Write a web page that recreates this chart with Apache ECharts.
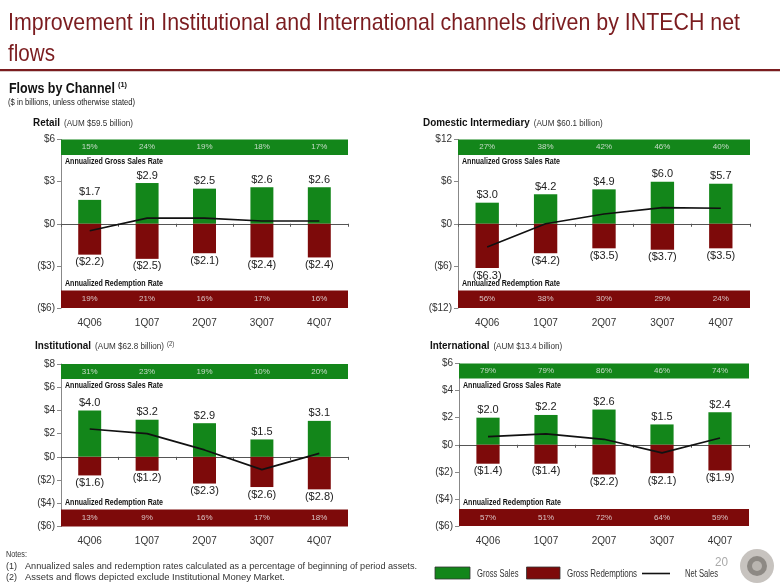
<!DOCTYPE html>
<html><head><meta charset="utf-8">
<script src="https://cdn.jsdelivr.net/npm/echarts@6/dist/echarts.min.js"></script>
<style>html,body{margin:0;padding:0;background:#fff}#c{width:780px;height:587px}</style>
</head><body><div id="c"></div>
<script>
const categories = ['4Q06','1Q07','2Q07','3Q07','4Q07'];

const retailGross = [1.7, 2.9, 2.5, 2.6, 2.6];
const retailRedemptions = [-2.2, -2.5, -2.1, -2.4, -2.4];
const retailNet = [-0.5, 0.4, 0.4, 0.2, 0.2];
const retailGrossRate = ['15%','24%','19%','18%','17%'];
const retailRedemptionRate = ['19%','21%','16%','17%','16%'];
const retailYTicks = [-6, -3, 0, 3, 6];

const domesticGross = [3.0, 4.2, 4.9, 6.0, 5.7];
const domesticRedemptions = [-6.3, -4.2, -3.5, -3.7, -3.5];
const domesticNet = [-3.3, 0.0, 1.4, 2.3, 2.2];
const domesticGrossRate = ['27%','38%','42%','46%','40%'];
const domesticRedemptionRate = ['56%','38%','30%','29%','24%'];
const domesticYTicks = [-12, -6, 0, 6, 12];

const institutionalGross = [4.0, 3.2, 2.9, 1.5, 3.1];
const institutionalRedemptions = [-1.6, -1.2, -2.3, -2.6, -2.8];
const institutionalNet = [2.4, 2.0, 0.6, -1.1, 0.3];
const institutionalGrossRate = ['31%','23%','19%','10%','20%'];
const institutionalRedemptionRate = ['13%','9%','16%','17%','18%'];
const institutionalYTicks = [-6, -4, -2, 0, 2, 4, 6, 8];

const internationalGross = [2.0, 2.2, 2.6, 1.5, 2.4];
const internationalRedemptions = [-1.4, -1.4, -2.2, -2.1, -1.9];
const internationalNet = [0.6, 0.8, 0.4, -0.6, 0.5];
const internationalGrossRate = ['79%','79%','86%','46%','74%'];
const internationalRedemptionRate = ['57%','51%','72%','64%','59%'];
const internationalYTicks = [-6, -4, -2, 0, 2, 4, 6];

const GREEN = '#13861a', RED = '#7d0a0a', DARKRED = '#7b1c1f';
const SANS = "'Liberation Sans',Arial,sans-serif";

const mctx = document.createElement('canvas').getContext('2d');
function measure(text, font) { mctx.font = font; return mctx.measureText(text).width; }
function fitText(text, font, x, y, width, fill) {
  return {type:'text', x:x, y:y, scaleX: width / measure(text, font),
    style:{text:text, font:font, fill:fill || '#222', textVerticalAlign:'middle'}};
}
function scaledText(text, font, x, y, sx, fill) {
  return {type:'text', x:x, y:y, scaleX:sx,
    style:{text:text, font:font, fill:fill || '#222', textVerticalAlign:'middle'}};
}

const panels = [
  {name:'Retail', sub:'(AUM $59.5 billion)', sup:'', tx:33, ty:123,
   grid:{left:61, top:139.5, width:287, height:168.5},
   gross:retailGross, red:retailRedemptions, net:retailNet, gr:retailGrossRate, rr:retailRedemptionRate, ticks:retailYTicks},
  {name:'Domestic Intermediary', sub:'(AUM $60.1 billion)', sup:'', tx:423, ty:123,
   grid:{left:458, top:139.5, width:292, height:168.5},
   gross:domesticGross, red:domesticRedemptions, net:domesticNet, gr:domesticGrossRate, rr:domesticRedemptionRate, ticks:domesticYTicks},
  {name:'Institutional', sub:'(AUM $62.8 billion)', sup:'(2)', tx:35, ty:346,
   grid:{left:61, top:364, width:287, height:162.5},
   gross:institutionalGross, red:institutionalRedemptions, net:institutionalNet, gr:institutionalGrossRate, rr:institutionalRedemptionRate, ticks:institutionalYTicks},
  {name:'International', sub:'(AUM $13.4 billion)', sup:'', tx:430, ty:346,
   grid:{left:459, top:363.5, width:290, height:162.5},
   gross:internationalGross, red:internationalRedemptions, net:internationalNet, gr:internationalGrossRate, rr:internationalRedemptionRate, ticks:internationalYTicks}
];

const TOPF = 0.092, BOTF = 0.104;
const fmtY = v => v < 0 ? '($' + (-v) + ')' : '$' + v;

const option = {animation:false, grid:[], xAxis:[], yAxis:[], series:[], graphic:[]};

panels.forEach((p, i) => {
  const min = p.ticks[0], max = p.ticks[p.ticks.length-1];
  const interval = p.ticks[1] - p.ticks[0];
  const range = max - min;
  option.grid.push(Object.assign({containLabel:false}, p.grid));
  option.xAxis.push({type:'category', gridIndex:i, data:categories, position:'bottom',
    axisLine:{show:false, onZero:false}, axisTick:{show:false},
    axisLabel:{fontFamily:SANS, fontSize:10, color:'#333', margin:10}});
  option.xAxis.push({type:'category', gridIndex:i, data:categories, position:'bottom',
    axisLine:{show:true, onZero:true, lineStyle:{color:'#555', width:1}},
    axisTick:{show:true, length:3, lineStyle:{color:'#555'}}, axisLabel:{show:false}});
  option.yAxis.push({type:'value', gridIndex:i, min:min, max:max, interval:interval,
    axisLine:{show:true, lineStyle:{color:'#888'}}, axisTick:{show:true, length:4, lineStyle:{color:'#888'}},
    splitLine:{show:false},
    axisLabel:{fontFamily:SANS, fontSize:10, color:'#333', margin:6, formatter:fmtY}});
  const xi = 2*i;
  option.series.push({type:'bar', name:'Gross Sales', xAxisIndex:xi, yAxisIndex:i, data:p.gross,
    barWidth:'40%', barGap:'-100%', itemStyle:{color:GREEN}, z:3,
    label:{show:true, position:'top', distance:2, fontFamily:SANS, fontSize:11, color:'#222',
      formatter:o => '$' + o.value.toFixed(1)},
    markArea:{silent:true, z:1, data:[
      [{yAxis:max, itemStyle:{color:GREEN}}, {yAxis:max - TOPF*range}],
      [{yAxis:min + BOTF*range, itemStyle:{color:RED}}, {yAxis:min}]
    ]}});
  option.series.push({type:'bar', name:'Gross Redemptions', xAxisIndex:xi, yAxisIndex:i, data:p.red,
    barWidth:'40%', barGap:'-100%', itemStyle:{color:RED}, z:3,
    label:{show:true, position:'bottom', distance:2, fontFamily:SANS, fontSize:11, color:'#222',
      formatter:o => '($' + (-o.value).toFixed(1) + ')'}});
  option.series.push({type:'line', name:'Net Sales', xAxisIndex:xi, yAxisIndex:i, data:p.net,
    symbol:'none', lineStyle:{color:'#111', width:1.6}, z:5});
  option.series.push({type:'scatter', xAxisIndex:xi, yAxisIndex:i, symbolSize:0, z:6,
    data:p.gr.map(() => max - TOPF*range/2),
    label:{show:true, position:'inside', fontFamily:SANS, fontSize:8, color:'#eeeeee',
      formatter:o => p.gr[o.dataIndex]}});
  option.series.push({type:'scatter', xAxisIndex:xi, yAxisIndex:i, symbolSize:0, z:6,
    data:p.rr.map(() => min + BOTF*range/2),
    label:{show:true, position:'inside', fontFamily:SANS, fontSize:8, color:'#eeeeee',
      formatter:o => p.rr[o.dataIndex]}});
  const g = p.grid;
  option.graphic.push(fitText('Annualized Gross Sales Rate', 'bold 9px ' + SANS, g.left+4, g.top + TOPF*g.height + 7, 98, '#111'));
  option.graphic.push(fitText('Annualized Redemption Rate', 'bold 9px ' + SANS, g.left+4, g.top + g.height - BOTF*g.height - 7, 98, '#111'));
  const nf = 'bold 11px ' + SANS, sf = '9px ' + SANS, sc = 0.9;
  const nw = measure(p.name, nf) * sc, sw = measure(p.sub, sf) * sc;
  option.graphic.push(scaledText(p.name, nf, p.tx, p.ty, sc, '#111'));
  option.graphic.push(scaledText(p.sub, sf, p.tx + nw + 4, p.ty + 0.5, sc, '#333'));
  if (p.sup) option.graphic.push(scaledText(p.sup, '6.5px ' + SANS, p.tx + nw + 4 + sw + 3, p.ty - 2, sc, '#333'));
});

option.graphic.push(
  fitText('Improvement in Institutional and International channels driven by INTECH net', '24px ' + SANS, 8, 23.5, 732, DARKRED),
  fitText('flows', '24px ' + SANS, 8, 54.5, 47, DARKRED),
  {type:'line', shape:{x1:0, y1:70, x2:780, y2:70}, style:{stroke:DARKRED, lineWidth:2}},
  {type:'line', shape:{x1:0, y1:71.5, x2:780, y2:71.5}, style:{stroke:'#d8c8c8', lineWidth:1}},
  fitText('Flows by Channel', 'bold 15px ' + SANS, 9, 88.5, 106, '#111'),
  fitText('(1)', 'bold 7px ' + SANS, 118, 85, 9, '#111'),
  scaledText('($ in billions, unless otherwise stated)', '9px ' + SANS, 8, 103, 0.85, '#222'),
  fitText('Notes:', '9.5px ' + SANS, 6, 554, 21, '#333'),
  fitText('(1)', '9.5px ' + SANS, 6, 566.5, 11, '#333'),
  fitText('Annualized sales and redemption rates calculated as a percentage of beginning of period assets.', '9.5px ' + SANS, 25, 566.5, 392, '#333'),
  fitText('(2)', '9.5px ' + SANS, 6, 577.5, 11, '#333'),
  fitText('Assets and flows depicted exclude Institutional Money Market.', '9.5px ' + SANS, 25, 577.5, 260, '#333'),
  {type:'rect', shape:{x:435, y:567, width:35, height:12}, style:{fill:GREEN, stroke:'#333', lineWidth:0.8}},
  fitText('Gross Sales', '10px ' + SANS, 477, 574, 41.5, '#333'),
  {type:'rect', shape:{x:526.5, y:567, width:33.5, height:12}, style:{fill:RED, stroke:'#333', lineWidth:0.8}},
  fitText('Gross Redemptions', '10px ' + SANS, 567, 574, 70, '#333'),
  {type:'line', shape:{x1:642, y1:573.5, x2:670, y2:573.5}, style:{stroke:'#111', lineWidth:1.6}},
  fitText('Net Sales', '10px ' + SANS, 685, 574, 33, '#333'),
  fitText('20', '13px ' + SANS, 715, 562.5, 13, '#aaa'),
  {type:'circle', shape:{cx:757, cy:566, r:17}, style:{fill:'#c7c3bf'}},
  {type:'circle', shape:{cx:757, cy:566, r:10}, style:{fill:'#8d8984'}},
  {type:'circle', shape:{cx:757, cy:566, r:5}, style:{fill:'#b9b5b0'}}
);

const chart = echarts.init(document.getElementById('c'), null, {renderer:'canvas'});
chart.setOption(option);
</script></body></html>
